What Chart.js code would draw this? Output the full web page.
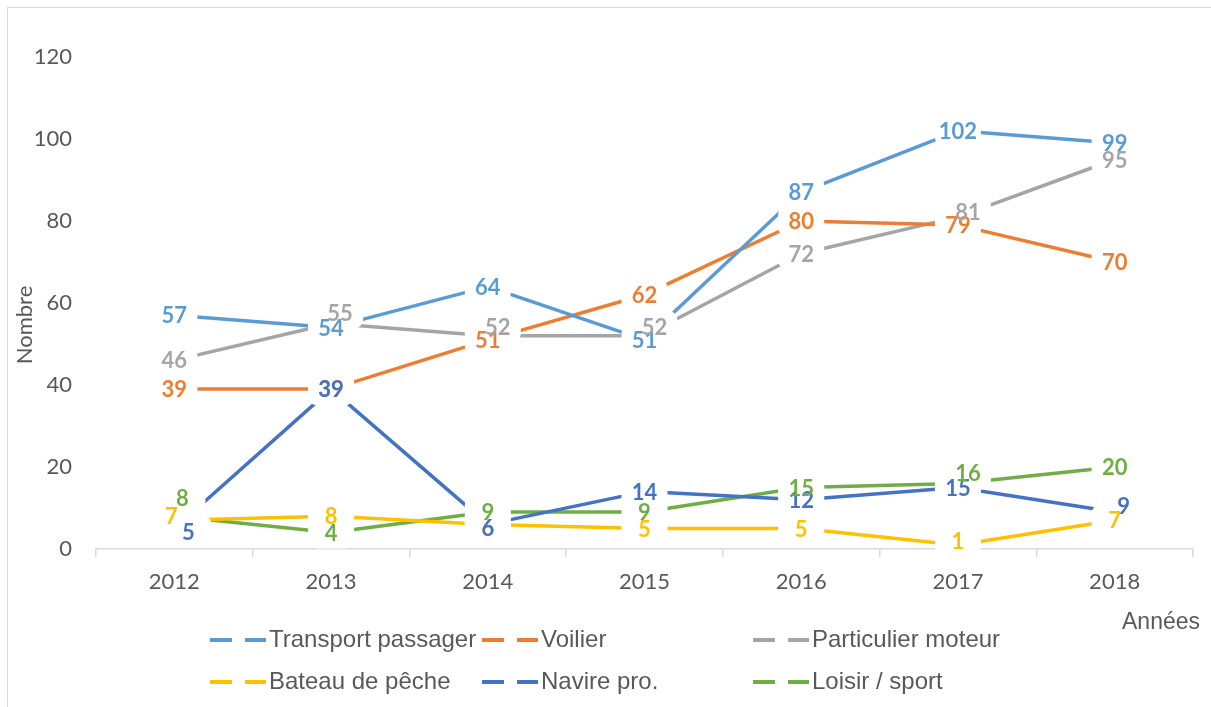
<!DOCTYPE html>
<html>
<head>
<meta charset="utf-8">
<script src="https://cdn.jsdelivr.net/npm/chart.js@4"></script>
<style>
  html, body { margin: 0; padding: 0; background: #fff; }
  #wrap { position: relative; width: 1211px; height: 707px; overflow: hidden; }
  #frame { position: absolute; left: 7px; top: 7px; width: 1220px; height: 720px; border: 1.5px solid #d9d9d9; box-sizing: border-box; }
  canvas { position: absolute; left: 0; top: 0; }
</style>
</head>
<body>
<div id="wrap">
  <div id="frame"></div>
  <canvas id="c" width="1211" height="707"></canvas>
</div>
<script>
const categories = ['2012', '2013', '2014', '2015', '2016', '2017', '2018'];
const seriesNames = ['Transport passager', 'Voilier', 'Particulier moteur', 'Bateau de pêche', 'Navire pro.', 'Loisir / sport'];
const transportPassager = [57, 54, 64, 51, 87, 102, 99];
const voilier = [39, 39, 51, 62, 80, 79, 70];
const particulierMoteur = [46, 55, 52, 52, 72, 81, 95];
const bateauDePeche = [7, 8, 6, 5, 5, 1, 7];
const navirePro = [5, 39, 6, 14, 12, 15, 9];
const loisirSport = [8, 4, 9, 9, 15, 16, 20];
const yTicks = [0, 20, 40, 60, 80, 100, 120];

const colors = ['#5B9BD5', '#ED7D31', '#A5A5A5', '#FFC000', '#4472C4', '#70AD47'];
// small label nudges (pixels) to mimic manually placed labels: [datasetIndex, pointIndex, dx, dy]
const labelNudges = [
  [2, 1, 9, -11], [2, 2, 10, -9], [2, 3, 10, -9], [2, 5, 10, -5],
  [3, 0, -3, -4], [3, 2, 0, 4], [3, 5, 0, -4],
  [4, 0, 14, 3], [4, 2, 0, 4], [4, 6, 9, -6],
  [5, 0, 8, -18], [5, 5, 10, -10]
];

const allSeries = [transportPassager, voilier, particulierMoteur, bateauDePeche, navirePro, loisirSport];
const datasets = allSeries.map((d, i) => ({
  label: seriesNames[i],
  data: d,
  borderColor: colors[i],
  backgroundColor: colors[i],
  borderWidth: 3.5,
  pointRadius: 0,
  pointHoverRadius: 0,
  tension: 0,
  borderCapStyle: 'butt',
  borderJoinStyle: 'round',
  fill: false
}));

function labelPositions(chart) {
  const out = [];
  chart.data.datasets.forEach((ds, di) => {
    const meta = chart.getDatasetMeta(di);
    meta.data.forEach((pt, pi) => {
      let x = pt.x, y = pt.y;
      const n = labelNudges.find(a => a[0] === di && a[1] === pi);
      if (n) { x += n[2]; y += n[3]; }
      out.push({ x, y, text: String(ds.data[pi]), color: ds.borderColor });
    });
  });
  return out;
}

const labelsPlugin = {
  id: 'labelsPlugin',
  afterDatasetsDraw(chart) {
    const ctx = chart.ctx;
    const items = labelPositions(chart);
    ctx.save();
    ctx.fillStyle = '#ffffff';
    items.forEach(it => {
      const w = 46, h = 32;
      ctx.beginPath();
      if (ctx.roundRect) ctx.roundRect(it.x - w / 2, it.y - h / 2, w, h, 9);
      else ctx.rect(it.x - w / 2, it.y - h / 2, w, h);
      ctx.fill();
    });
    ctx.font = 'bold 22px Lato';
    ctx.textAlign = 'center';
    ctx.textBaseline = 'middle';
    items.forEach(it => {
      ctx.fillStyle = it.color;
      ctx.fillText(it.text, it.x, it.y + 1);
    });
    ctx.restore();
  },
  afterDraw(chart) {
    const ctx = chart.ctx;
    ctx.save();
    ctx.fillStyle = '#595959';
    ctx.font = '23px "Liberation Sans", Arial';
    ctx.textAlign = 'right';
    ctx.textBaseline = 'middle';
    ctx.fillText('Années', 1200, 623);
    ctx.save();
    ctx.translate(25, 325);
    ctx.rotate(-Math.PI / 2);
    ctx.textAlign = 'center';
    ctx.font = '22px Lato';
    ctx.fillText('Nombre', 0, 0);
    ctx.restore();
    const colX = [210, 482, 753];
    const rowY = [640, 682];
    ctx.font = '24px "Liberation Sans", Arial';
    ctx.textAlign = 'left';
    ctx.textBaseline = 'middle';
    chart.data.datasets.forEach((ds, i) => {
      const x = colX[i % 3];
      const y = rowY[Math.floor(i / 3)];
      ctx.strokeStyle = ds.borderColor;
      ctx.lineWidth = 4;
      ctx.lineCap = 'butt';
      ctx.beginPath();
      ctx.moveTo(x, y); ctx.lineTo(x + 22, y);
      ctx.moveTo(x + 35, y); ctx.lineTo(x + 56, y);
      ctx.stroke();
      ctx.fillStyle = '#595959';
      ctx.fillText(ds.label, x + 59, y);
    });
    ctx.restore();
  }
};

new Chart(document.getElementById('c'), {
  type: 'line',
  data: { labels: categories, datasets },
  plugins: [labelsPlugin],
  options: {
    responsive: false,
    animation: false,
    events: [],
    layout: { padding: { top: 57, right: 18, bottom: 0, left: 0 } },
    plugins: { legend: { display: false }, tooltip: { enabled: false } },
    scales: {
      x: {
        offset: true,
        afterFit(scale) { scale.height = 158; },
        grid: {
          offset: true,
          drawOnChartArea: false,
          drawTicks: true,
          tickLength: 8,
          color: '#d9d9d9',
          lineWidth: 1.5
        },
        border: { display: true, color: '#d9d9d9', width: 1.5 },
        ticks: {
          color: '#595959',
          font: { family: 'Lato', size: 22 },
          padding: 12,
          maxRotation: 0
        }
      },
      y: {
        min: 0,
        max: 120,
        afterFit(scale) { scale.width = 96; },
        afterBuildTicks(scale) { scale.ticks = yTicks.map(v => ({ value: v })); },
        grid: { display: false, drawTicks: false },
        border: { display: false },
        ticks: {
          color: '#595959',
          font: { family: 'Lato', size: 22 },
          padding: 24
        }
      }
    }
  }
});
</script>
</body>
</html>
